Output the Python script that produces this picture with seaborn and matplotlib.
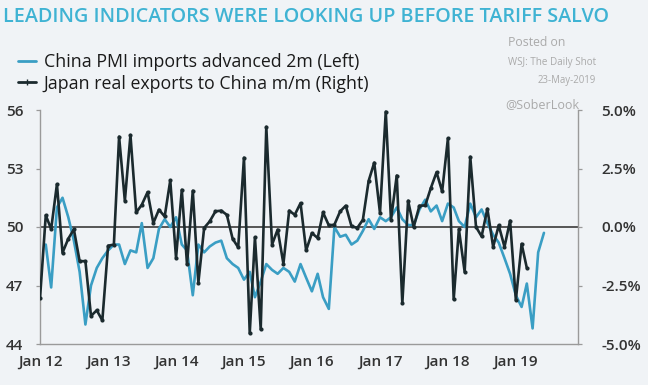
import matplotlib
matplotlib.use("Agg")
import matplotlib.pyplot as plt
import matplotlib.dates as mdates
from matplotlib.lines import Line2D
import numpy as np
import pandas as pd
import seaborn as sns

# ---------------- data ----------------
pmi_start = "2012-02-01"
china_pmi_adv2m = [
    49.1, 46.9, 51.0, 51.5, 50.5, 49.3, 47.7, 45.0, 47.0, 47.9, 48.4,          # 2012 Feb-Dec
    48.8, 49.1, 49.1, 48.1, 48.8, 48.7, 50.2, 47.9, 48.4, 49.9, 50.4, 50.0,    # 2013
    50.5, 49.1, 48.8, 46.5, 49.1, 48.7, 49.0, 49.2, 49.3, 48.4, 48.1, 47.9,    # 2014
    47.3, 47.7, 46.4, 47.2, 48.1, 47.8, 47.6, 47.9, 47.7, 47.2, 48.1, 47.4,    # 2015
    46.7, 47.6, 46.4, 45.8, 50.0, 49.5, 49.6, 49.1, 49.3, 49.8, 50.4, 49.9,    # 2016
    50.5, 50.3, 50.5, 51.0, 50.4, 50.1, 50.1, 50.9, 51.4, 50.8, 51.1, 50.3,    # 2017
    51.2, 51.0, 50.3, 50.0, 51.2, 50.5, 50.9, 50.2, 49.6, 49.2, 48.4, 47.6,    # 2018
    46.5, 45.9, 47.1, 44.8, 48.7, 49.7,                                        # 2019 Jan-Jun
]

jp_start = "2012-01-01"
japan_exports_mm = [
    -3.05, 0.50, -0.09, 1.83, -1.10, -0.50, -0.10, -1.46, -1.46, -3.80, -3.56, -3.99,  # 2012
    -0.80, -0.75, 3.86, 1.12, 3.93, 0.62, 0.95, 1.49, 0.17, 0.74, 0.45, 1.99,          # 2013
    -1.32, 1.59, -1.60, 1.55, -2.38, -0.04, 0.24, 0.67, 0.70, 0.52, -0.50, -0.87,      # 2014
    2.96, -4.54, -0.44, -4.37, 4.28, -0.75, -0.11, -1.57, 0.70, 0.52, 1.02, -1.00,     # 2015
    -0.26, -0.47, 0.62, 0.07, 0.10, 0.67, 0.91, 0.03, -0.04, 0.31, 1.97, 2.75,         # 2016
    0.60, 4.93, 0.31, 2.20, -3.26, 1.12, 0.00, 0.91, 0.92, 1.66, 2.34, 1.52,           # 2017
    3.79, -3.09, -0.10, -1.92, 3.00, 0.00, -0.40, 0.78, -0.85, 0.07, -0.85, 0.27,      # 2018
    -3.12, -0.72, -1.75,                                                               # 2019
]

title = "LEADING INDICATORS WERE LOOKING UP BEFORE TARIFF SALVO"
label_pmi = "China PMI imports advanced 2m (Left)"
label_jp = "Japan real exports to China m/m (Right)"
left_ticks = [44, 47, 50, 53, 56]
right_ticks = [-5.0, -2.5, 0.0, 2.5, 5.0]
year_ticks = [f"{y}-01-01" for y in range(2012, 2020)]

pmi_df = pd.DataFrame({
    "date": pd.date_range(pmi_start, periods=len(china_pmi_adv2m), freq="MS"),
    "value": china_pmi_adv2m,
})
jp_df = pd.DataFrame({
    "date": pd.date_range(jp_start, periods=len(japan_exports_mm), freq="MS"),
    "value": japan_exports_mm,
})

# ---------------- style ----------------
sns.set_theme(style="white")
plt.rcParams["font.family"] = ["Open Sans", "DejaVu Sans"]
bg = "#f0f3f6"
blue = "#3a9ec4"
dark = "#1b2a2e"
txt = "#333333"
gray_axis = "#9a9a9a"

fig = plt.figure(figsize=(6.48, 3.85), dpi=100, facecolor=bg)
ax = fig.add_axes([40 / 648, 41 / 385, 538 / 648, 234 / 385])
ax.set_facecolor("none")

sns.lineplot(data=pmi_df, x="date", y="value", ax=ax, color=blue, linewidth=1.9, legend=False)
ax.axhline(50, color="#555555", linewidth=1.4, zorder=1)

ax2 = ax.twinx()
sns.lineplot(data=jp_df, x="date", y="value", ax=ax2, color=dark, linewidth=1.9,
             marker="o", markersize=3, markeredgewidth=0, legend=False)

ax.set_ylim(44, 56)
ax2.set_ylim(-5, 5)
ax.set_xlim(pd.Timestamp("2012-01-01"), pd.Timestamp("2019-12-01"))

ax.set_yticks(left_ticks)
ax.set_yticklabels([str(v) for v in left_ticks])
ax2.set_yticks(right_ticks)
ax2.set_yticklabels([f"{v:.1f}%" for v in right_ticks])
ax.set_xticks(pd.to_datetime(year_ticks))
ax.xaxis.set_major_formatter(mdates.DateFormatter("Jan %y"))

for a in (ax, ax2):
    a.set_xlabel("")
    a.set_ylabel("")
    for s in a.spines.values():
        s.set_visible(False)
    a.tick_params(colors=gray_axis, labelcolor=txt, labelsize=11, length=3, width=0.9)
    for lab in a.get_xticklabels() + a.get_yticklabels():
        lab.set_fontweight("semibold")
ax.spines["left"].set_visible(True)
ax.spines["bottom"].set_visible(True)
ax2.spines["right"].set_visible(True)
for s in (ax.spines["left"], ax.spines["bottom"], ax2.spines["right"]):
    s.set_color(gray_axis)
    s.set_linewidth(1.0)
ax.tick_params(axis="y", pad=9)
ax2.tick_params(axis="y", pad=14)
ax.tick_params(axis="x", pad=5)

# ---------------- texts ----------------
fig.text(0.004, 1 - 17 / 385, title, color="#3fb3d3", fontsize=14.2,
         fontweight="semibold", va="center", ha="left")

handles = [
    Line2D([], [], color=blue, linewidth=2),
    Line2D([], [], color=dark, linewidth=2, marker="|", markersize=5),
]
leg = fig.legend(handles, [label_pmi, label_jp], loc="upper left",
                 bbox_to_anchor=(18 / 648, 1 - 53 / 385), frameon=False,
                 fontsize=12.8, handlelength=1.0, handletextpad=0.45, labelspacing=0.2,
                 borderaxespad=0, borderpad=0)
for t in leg.get_texts():
    t.set_color("#1a1a1a")
    t.set_fontweight("medium")

fig.text(508 / 648, 1 - 42 / 385, "Posted on", color="#aaaaaa", fontsize=8.8, va="center")
fig.text(508 / 648, 1 - 62 / 385, "WSJ: The Daily Shot", color="#aaaaaa", fontsize=7.1, va="center")
fig.text(596 / 648, 1 - 81 / 385, "23-May-2019", color="#aaaaaa", fontsize=6.9, va="center", ha="right")
fig.text(505 / 648, 1 - 105 / 385, "@SoberLook", color="#aaaaaa", fontsize=9, va="center")

fig.savefig("out.png", dpi=100, facecolor=bg)
